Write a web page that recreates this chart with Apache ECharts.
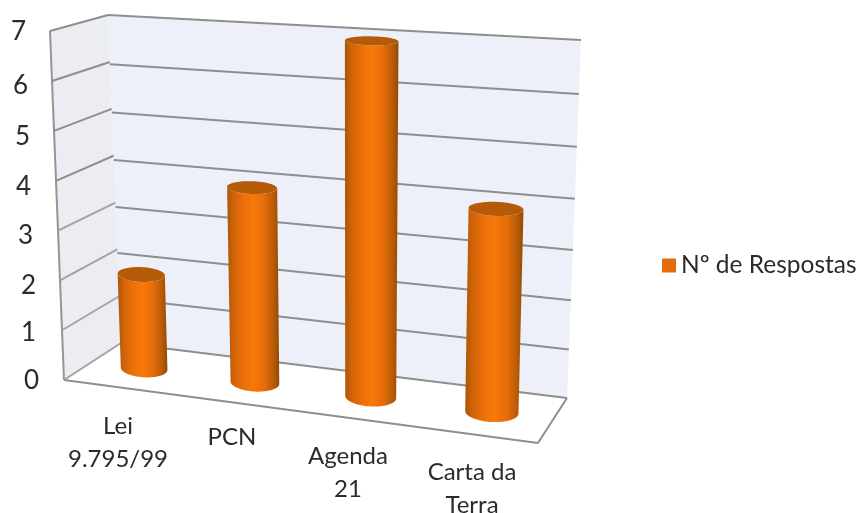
<!DOCTYPE html>
<html><head><meta charset="utf-8">
<style>html,body{margin:0;padding:0;background:#fff}#c{width:860px;height:513px}</style>
<script src="https://cdn.jsdelivr.net/npm/echarts@6/dist/echarts.min.js"></script>
</head><body><div id="c"></div>
<script>
const categories = ['Lei\n9.795/99', 'PCN', 'Agenda\n21', 'Carta da\nTerra'];
const seriesName = 'Nº de Respostas';
const values = [2, 4, 7, 4];
const yTicks = [0, 1, 2, 3, 4, 5, 6, 7];

// layout of the tilted box (scene constants, not data)
const FONT = 'Lato';
const TEXT = '#2b2b2b';
const catLabelDrop = [0, 11, 30, 46];
const catLabelShift = [0, -4, -6, 0];
const tickLabelDrop = [2.5, 4.2, 6.5, 6.2, 7.2, 6.4, 4.9, 1];
const tickLabelInset = [0, 3, 3, 6, 8, 9, 11, 13];
const backQuad  = [[121,343],[567,398],[581,40],[108,15]];
const leftQuad  = [[64,380],[121,343],[108,15],[50,31]];
const floorQuad = [[64,380],[538,443],[567,398],[121,343]];
const barQuad   = [[90.5,362],[554.5,420],[565.5,52],[77.5,24]];
const barRatio = 0.43;

function homography(q){
  const [x0,y0]=q[0],[x1,y1]=q[1],[x2,y2]=q[2],[x3,y3]=q[3];
  const dx1=x1-x2,dx2=x3-x2,sx=x0-x1+x2-x3,dy1=y1-y2,dy2=y3-y2,sy=y0-y1+y2-y3;
  const det=dx1*dy2-dx2*dy1,g=(sx*dy2-dx2*sy)/det,h=(dx1*sy-sx*dy1)/det;
  const a=x1-x0+g*x1,b=x3-x0+h*x3,d=y1-y0+g*y1,e=y3-y0+h*y3;
  return (u,v)=>{const w=g*u+h*v+1;return [(a*u+b*v+x0)/w,(d*u+e*v+y0)/w];};
}
const Hback=homography(backQuad),Hleft=homography(leftQuad),Hbar=homography(barQuad);

const GRID='#8e8e8e';
function line(p,q,color,width){
  return {type:'line',shape:{x1:p[0],y1:p[1],x2:q[0],y2:q[1]},style:{stroke:color,lineWidth:width},silent:true};
}
function renderWalls(params,api){
  const cs=params.coordSys, t=api.value(1);
  const v=(cs.y+cs.height-api.coord([0,t])[1])/cs.height;
  const kids=[];
  if(params.dataIndex===0){
    kids.push({type:'polygon',shape:{points:backQuad},style:{fill:'#edf0f8'},silent:true});
    kids.push({type:'polygon',shape:{points:leftQuad},style:{fill:'#ebedf3'},silent:true});
    kids.push({type:'polygon',shape:{points:floorQuad},style:{fill:'#ffffff'},silent:true});
    kids.push(line(leftQuad[0],leftQuad[3],'#959595',2));
    kids.push(line(floorQuad[0],floorQuad[1],'#8e8e8e',2));
    kids.push(line(floorQuad[1],floorQuad[2],'#8e8e8e',2));
  }
  kids.push(line(Hback(0,v),Hback(1,v),GRID,2));
  kids.push(line(Hleft(0,v),Hleft(1,v),t<4?'#a3a3a3':GRID,2));
  return {type:'group',children:kids};
}
function renderBar(params,api){
  const cs=params.coordSys, cat=api.value(0), val=api.value(1);
  const top=api.coord([cat,val]), base=api.coord([cat,0]);
  const u=(top[0]-cs.x)/cs.width;
  const du=api.size([1,0])[0]*barRatio/2/cs.width;
  const vt=(cs.y+cs.height-top[1])/cs.height, vb=(cs.y+cs.height-base[1])/cs.height;
  function ring(v){
    const c=Hbar(u,v),l=Hbar(u-du,v),r=Hbar(u+du,v);
    const ex=(r[0]-l[0])/2,ey=(r[1]-l[1])/2*0.4,ry=Math.abs(ex)*(0.37-0.2*v);
    return th=>[c[0]+Math.cos(th)*ex,c[1]+Math.cos(th)*ey+Math.sin(th)*ry];
  }
  const rt=ring(vt),rb=ring(vb),N=40,body=[],cap=[];
  for(let i=0;i<=N;i++) body.push(rb(Math.PI-Math.PI*i/N));
  for(let i=0;i<=N;i++) body.push(rt(Math.PI*i/N));
  for(let i=0;i<N*2;i++) cap.push(rt(Math.PI*i/N));
  return {type:'group',children:[
    {type:'polygon',shape:{points:body},style:{fill:{type:'linear',x:0,y:0,x2:1,y2:0,colorStops:[
      {offset:0,color:'#a85605'},{offset:0.12,color:'#cf6308'},{offset:0.3,color:'#ea6f0a'},
      {offset:0.5,color:'#f8790b'},{offset:0.72,color:'#e56c09'},{offset:0.9,color:'#b65a06'},{offset:1,color:'#8f4904'}]}}},
    {type:'polygon',shape:{points:cap},style:{fill:'#b55b08'}}
  ]};
}

const chart=echarts.init(document.getElementById('c'),null,{renderer:'canvas'});
const rich={};
yTicks.forEach(t=>{rich['t'+t]={fontFamily:FONT,fontSize:26,color:TEXT,padding:[tickLabelDrop[t]*2,tickLabelInset[t],0,0]};});
chart.setOption({
  animation:false,
  backgroundColor:'#ffffff',
  grid:{left:59,top:31,width:472,height:347,containLabel:false,outerBoundsMode:'none'},
  legend:{left:657,top:248,orient:'vertical',itemWidth:14,itemHeight:14,
    data:[{name:seriesName,icon:'rect',itemStyle:{color:'#E46C0A'}}],
    textStyle:{fontFamily:FONT,fontSize:24.5,color:TEXT}},
  xAxis:{type:'category',
    data:categories.map((c,i)=>({value:c,textStyle:{padding:[catLabelDrop[i],Math.max(0,-catLabelShift[i]*2),0,Math.max(0,catLabelShift[i]*2)]}})),
    axisLine:{show:false},axisTick:{show:false},splitLine:{show:false},
    axisLabel:{interval:0,margin:32,fontFamily:FONT,fontSize:24,lineHeight:33,color:TEXT,verticalAlign:'top'}},
  yAxis:{type:'value',min:0,max:7,interval:1,
    axisLine:{show:false},axisTick:{show:false},splitLine:{show:false},
    axisLabel:{margin:20,formatter:val=>`{t${val}|${val}}`,rich}},
  series:[
    {type:'custom',name:'walls',silent:true,z:1,renderItem:renderWalls,data:yTicks.map(t=>[0,t]),encode:{x:0,y:1},tooltip:{show:false}},
    {type:'custom',name:seriesName,z:2,renderItem:renderBar,itemStyle:{color:'#E46C0A'},
     data:values.map((val,i)=>[i,val]),encode:{x:0,y:1}}
  ]
});
</script></body></html>
